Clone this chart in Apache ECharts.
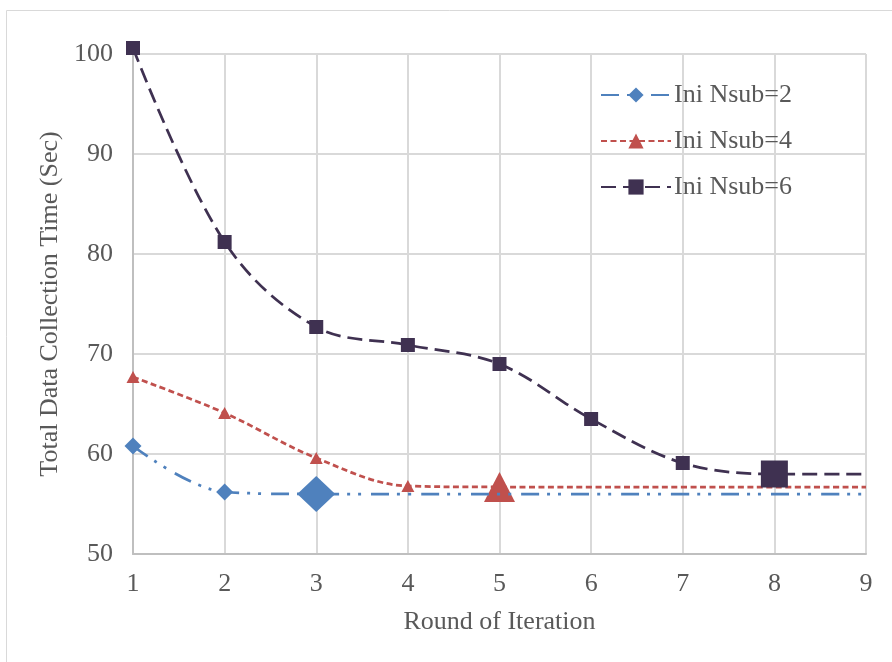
<!DOCTYPE html>
<html>
<head>
<meta charset="utf-8">
<script src="https://cdn.jsdelivr.net/npm/echarts@6/dist/echarts.min.js"></script>
<style>html,body{margin:0;padding:0;background:#fff}#c{width:892px;height:662px}</style>
</head>
<body>
<div id="c"></div>
<script>
var rounds = [1, 2, 3, 4, 5, 6, 7, 8, 9];
var nsub2 = [60.8, 56.2, 56.0, 56.0, 56.0, 56.0, 56.0, 56.0, 56.0];
var nsub4 = [67.7, 64.1, 59.6, 56.8, 56.7, 56.7, 56.7, 56.7, 56.7];
var nsub6 = [100.6, 81.2, 72.7, 70.9, 69.0, 63.5, 59.1, 58.0, 58.0];
var seriesNames = ['Ini Nsub=2', 'Ini Nsub=4', 'Ini Nsub=6'];
var yTicks = [50, 60, 70, 80, 90, 100];

// marker sizes per point: small, big (highlighted), or none
var sizes2 = [[17,17],[17,17],[38,36],null,null,null,null,null,null];
var sizes4 = [[13,12],[13,12],[13,12],[13,12],[31,30],null,null,null,null];
var sizes6 = [14,14,14,14,14,14,14,27,null];

function build(vals, sizes) {
  return vals.map(function (v, i) {
    var item = { value: [rounds[i], v] };
    if (sizes[i] == null) { item.symbol = 'none'; }
    else { item.symbolSize = sizes[i]; }
    return item;
  });
}

var font = 'Liberation Serif';
var txt = '#595959';
var chart = echarts.init(document.getElementById('c'));
chart.setOption({
  animation: false,
  graphic: [{
    type: 'rect', silent: true,
    shape: { x: 6.5, y: 10.5, width: 1000, height: 1000 },
    style: { fill: 'none', stroke: '#D9D9D9', lineWidth: 1 }
  }],
  grid: { left: 133, right: 26, top: 54, bottom: 108 },
  legend: {
    orient: 'vertical', left: 595, top: 77,
    itemWidth: 70, itemHeight: 19, itemGap: 20,
    textStyle: { fontFamily: font, fontSize: 26, color: txt, padding: [0,0,0,-2] },
    data: seriesNames
  },
  xAxis: {
    type: 'value', min: 1, max: 9, interval: 1,
    name: 'Round of Iteration', nameLocation: 'middle', nameGap: 55,
    nameTextStyle: { fontFamily: font, fontSize: 26, color: txt },
    axisLine: { lineStyle: { color: '#BFBFBF', width: 2 } },
    axisTick: { show: false },
    axisLabel: { fontFamily: font, fontSize: 26, color: txt, margin: 17 },
    splitLine: { show: true, lineStyle: { color: '#D9D9D9', width: 2 } }
  },
  yAxis: {
    type: 'value', min: yTicks[0], max: yTicks[yTicks.length - 1], interval: 10,
    name: 'Total Data Collection Time (Sec)', nameLocation: 'middle', nameGap: 70,
    nameTextStyle: { fontFamily: font, fontSize: 26, color: txt },
    axisLine: { show: true, lineStyle: { color: '#BFBFBF', width: 2 } },
    axisTick: { show: false },
    axisLabel: { fontFamily: font, fontSize: 26, color: txt, margin: 20 },
    splitLine: { show: true, lineStyle: { color: '#D9D9D9', width: 2 } }
  },
  series: [
    {
      name: seriesNames[0], type: 'line', smooth: 0.35, clip: false,
      symbol: 'diamond', symbolSize: 17,
      data: build(nsub2, sizes2),
      itemStyle: { color: '#4F81BD' },
      lineStyle: { color: '#4F81BD', width: 2.75, type: [18, 8, 3, 8, 3, 10] },
      emphasis: { disabled: true }, z: 3
    },
    {
      name: seriesNames[1], type: 'line', smooth: 0.35, clip: false,
      symbol: 'triangle', symbolSize: 13,
      data: build(nsub4, sizes4),
      itemStyle: { color: '#C0504D' },
      lineStyle: { color: '#C0504D', width: 2.75, type: [6, 3.5] },
      emphasis: { disabled: true }, z: 2
    },
    {
      name: seriesNames[2], type: 'line', smooth: 0.35, clip: false,
      symbol: 'rect', symbolSize: 14,
      data: build(nsub6, sizes6),
      itemStyle: { color: '#3F3151' },
      lineStyle: { color: '#3F3151', width: 2.75, type: [15, 7] },
      emphasis: { disabled: true }, z: 4
    }
  ]
});
</script>
</body>
</html>
